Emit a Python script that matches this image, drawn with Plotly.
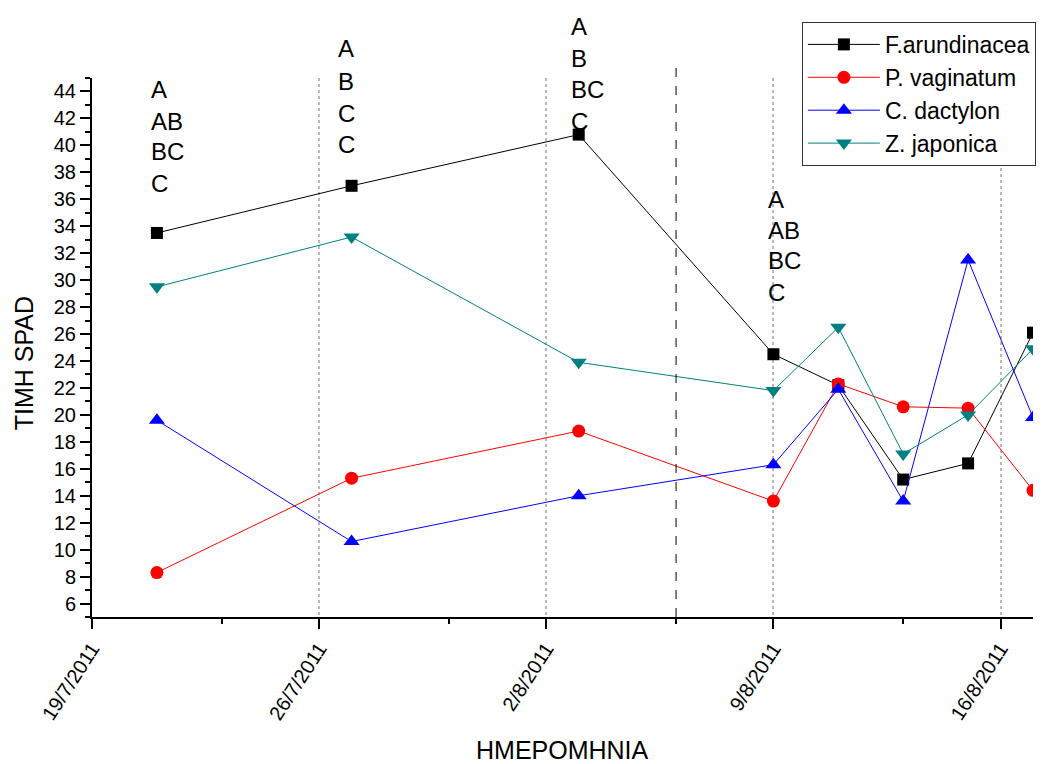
import plotly.graph_objects as go

# ---------------- data ----------------
dates = ['2011-07-21', '2011-07-27', '2011-08-03', '2011-08-09',
         '2011-08-11', '2011-08-13', '2011-08-15', '2011-08-17']

f_arundinacea = [33.5, 37.0, 40.8, 24.5, 22.2, 15.2, 16.4, 26.1]
p_vaginatum   = [8.3, 15.3, 18.8, 13.6, 22.3, 20.6, 20.5, 14.4]
c_dactylon    = [19.6, 10.6, 14.0, 16.3, 21.9, 13.6, 31.5, 19.8]
z_japonica    = [29.5, 33.2, 23.9, 21.8, 26.5, 17.1, 20.0, 24.9]

series_names = ['F.arundinacea', 'P. vaginatum', 'C. dactylon', 'Z. japonica']

x_major_ticks = ['2011-07-19', '2011-07-26', '2011-08-02', '2011-08-09', '2011-08-16']
x_tick_labels = ['19/7/2011', '26/7/2011', '2/8/2011', '9/8/2011', '16/8/2011']
x_minor_ticks = ['2011-07-23', '2011-07-30', '2011-08-06', '2011-08-13']
y_major_ticks = list(range(6, 45, 2))
y_minor_ticks = list(range(5, 46, 2))
marker_line_date = '2011-08-06'

letter_groups = [
    ['A', 'AB', 'BC', 'C'],
    ['A', 'B', 'C', 'C'],
    ['A', 'B', 'BC', 'C'],
    ['A', 'AB', 'BC', 'C'],
]

x_title = 'HMEPOMHNIA'
y_title = 'TIMH SPAD'

# ---------------- styling ----------------
FONT = 'Liberation Sans, Arial, sans-serif'
styles = [
    dict(color='#000000', symbol='square', size=12),
    dict(color='#FF0000', symbol='circle', size=13),
    dict(color='#0000FF', symbol='triangle-up', size=14),
    dict(color='#008080', symbol='triangle-down', size=14),
]

fig = go.Figure()
for name, vals, st in zip(series_names,
                          [f_arundinacea, p_vaginatum, c_dactylon, z_japonica],
                          styles):
    fig.add_trace(go.Scatter(
        x=dates, y=vals, name=name, mode='lines+markers',
        line=dict(color=st['color'], width=1),
        marker=dict(color=st['color'], symbol=st['symbol'], size=st['size'],
                    line=dict(width=0)),
    ))

# annotation layout (paper coords)
group_x = [0.0605, 0.2594, 0.5066, 0.7164]
group_y = [
    [0.979, 0.920, 0.863, 0.805],
    [1.0556, 0.9941, 0.9348, 0.8773],
    [1.0951, 1.0365, 0.9778, 0.9190],
    [0.7738, 0.7163, 0.6612, 0.6013],
]
annotations = []
for gx, gys, texts in zip(group_x, group_y, letter_groups):
    for gy, t in zip(gys, texts):
        annotations.append(dict(
            x=gx, y=gy, xref='paper', yref='paper', text=t, showarrow=False,
            xanchor='left', yanchor='middle',
            font=dict(family=FONT, size=24, color='black'),
        ))

annotations.append(dict(
    x=0.5005, y=-0.246, xref='paper', yref='paper', text=x_title,
    showarrow=False, xanchor='center', yanchor='middle',
    font=dict(family=FONT, size=25, color='black')))
annotations.append(dict(
    x=-0.0719, y=0.4715, xref='paper', yref='paper', text=y_title,
    showarrow=False, xanchor='center', yanchor='middle', textangle=-90,
    font=dict(family=FONT, size=25, color='black')))

fig.update_layout(
    width=1056, height=764,
    margin=dict(l=92, r=23, t=78, b=147, autoexpand=False),
    paper_bgcolor='white', plot_bgcolor='white',
    font=dict(family=FONT, color='black'),
    showlegend=True,
    legend=dict(
        x=0.7544, y=1.104, xanchor='left', yanchor='top',
        bgcolor='white', bordercolor='#333333', borderwidth=1,
        font=dict(family=FONT, size=23, color='black'),
        tracegroupgap=0, itemwidth=72,
    ),
    annotations=annotations,
    shapes=[dict(type='line', xref='x', yref='paper',
                 x0=marker_line_date, x1=marker_line_date, y0=0, y1=1.024,
                 line=dict(color='black', width=1, dash='dash'))],
)

fig.update_xaxes(
    type='date', range=['2011-07-19', '2011-08-17'],
    tickmode='array', tickvals=x_major_ticks, ticktext=x_tick_labels,
    tickangle=-57, tickfont=dict(family=FONT, size=20, color='black'),
    ticks='outside', ticklen=10, tickwidth=2, tickcolor='black',
    showline=True, linecolor='black', linewidth=2,
    showgrid=True, gridcolor='#B8B8B8', gridwidth=2, griddash='dot',
    zeroline=False,
    minor=dict(tickmode='array', tickvals=x_minor_ticks, ticks='outside',
               ticklen=5, tickwidth=2, tickcolor='black', showgrid=False),
)
fig.update_yaxes(
    range=[5, 45],
    tickmode='array', tickvals=y_major_ticks,
    tickfont=dict(family=FONT, size=20, color='black'),
    ticks='outside', ticklen=10, tickwidth=2, tickcolor='black',
    showline=True, linecolor='black', linewidth=2,
    showgrid=False, zeroline=False,
    minor=dict(tickmode='array', tickvals=y_minor_ticks, ticks='outside',
               ticklen=5, tickwidth=2, tickcolor='black', showgrid=False),
)

fig.write_html('out.html')
